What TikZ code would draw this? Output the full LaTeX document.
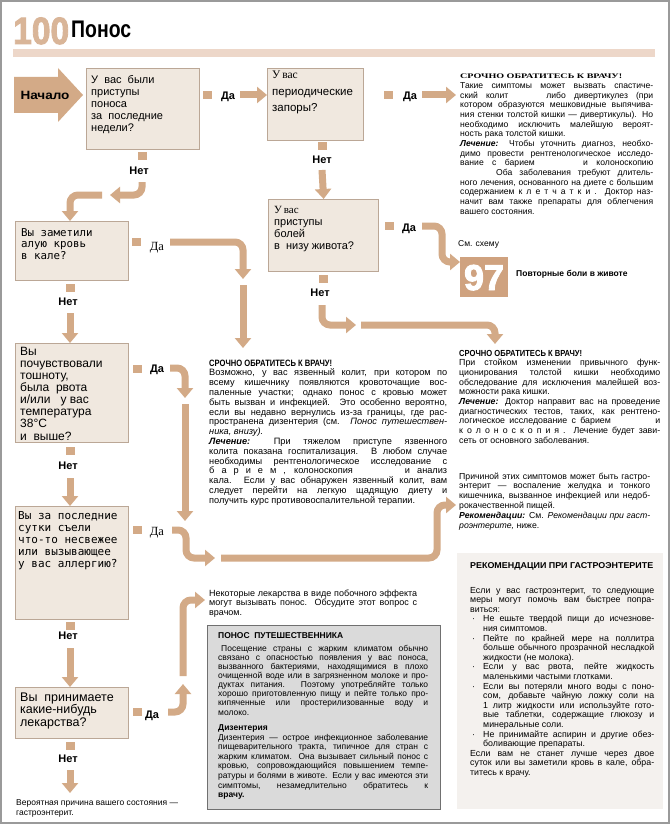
\documentclass[tikz,border=0pt]{standalone}
\usepackage{fontspec}
\setmainfont{Liberation Sans}
\newfontfamily\serf{Liberation Serif}
\newfontfamily\monof{DejaVu Sans Mono}
\newfontfamily\heavy{Liberation Sans}[BoldFeatures={FakeBold=2.5}]
\usepackage{graphicx}
\usetikzlibrary{arrows.meta}
\definecolor{tanA}{HTML}{D3AA87}
\definecolor{tan97}{HTML}{CFA27F}
\definecolor{titletan}{HTML}{D9B598}
\definecolor{band}{HTML}{EDD7C9}
\definecolor{boxfill}{HTML}{F0E8DF}
\definecolor{boxline}{HTML}{BBA796}
\definecolor{grayfill}{HTML}{DADADA}
\definecolor{grayline}{HTML}{707070}
\definecolor{recfill}{HTML}{F4F1EE}
\definecolor{framegray}{HTML}{9A9A9A}
\newsavebox\jlbox
\newlength\blw
\newcommand\jlw[2]{\sbox\jlbox{#2}\ifdim\wd\jlbox>#1\relax\resizebox{#1}{\ht\jlbox}{\usebox\jlbox}\else\makebox[#1][s]{#2}\fi}
\newcommand\jl[1]{\noindent\jlw{\linewidth}{#1}\par}
\newcommand\bj[2]{\noindent\makebox[13pt][l]{\hspace{2pt}#1}\jlw{\blw}{#2}\par}
\newcommand\bl[2]{\noindent\makebox[13pt][l]{\hspace{2pt}#1}#2\par}
\newcommand\fitw[2]{\resizebox{#1}{\height}{#2}}
\begin{document}
\begin{tikzpicture}[x=1pt,y=-1pt,
  tarr/.style={draw=tanA, line width=7pt, rounded corners=8pt, -{Triangle[width=16pt,length=10pt]}},
  stub/.style={fill=tanA, inner sep=0, minimum width=9pt, minimum height=8pt},
  qbox/.style={draw=boxline, fill=boxfill, line width=1.3pt, inner sep=0, anchor=north west},
  lab/.style={font=\bfseries\fontsize{11}{11}\selectfont, inner sep=0},
  slab/.style={font=\serf\fontsize{12.5}{12}\selectfont, inner sep=0},
  txt/.style={anchor=base west, inner sep=0},
]
\useasboundingbox (0,0) rectangle (670,824);
\fill[white] (0,0) rectangle (670,824);
\draw[draw=framegray, line width=2pt] (1,1) rectangle (669,823);

% title
\node[txt, text=titletan, font=\heavy\bfseries\fontsize{38}{38}\selectfont] (num) at (13,44) {\fitw{56pt}{100}};
\node[txt, font=\bfseries\fontsize{24}{24}\selectfont] (ttl) at (71,38) {\fitw{60pt}{Понос}};
\fill[band] (13,49) rectangle (655,57);

% start arrow
\fill[tanA] (14,77) -- (58,77) -- (58,68) -- (83,95) -- (58,122) -- (58,113) -- (14,113) -- cycle;
\node[font=\bfseries\fontsize{12}{12}\selectfont, inner sep=0] (start) at (45,95) {\fitw{49pt}{Начало}};

% question boxes
\node[qbox, minimum width=113pt, minimum height=81pt] (b1) at (86,68) {};
\node[qbox, minimum width=96pt, minimum height=72pt] (b2) at (267,68) {};
\node[qbox, minimum width=110pt, minimum height=72pt] (b3) at (268,199) {};
\node[qbox, minimum width=113pt, minimum height=59pt] (b4) at (15,221) {};
\node[qbox, minimum width=113pt, minimum height=99pt] (b5) at (15,343) {};
\node[qbox, minimum width=113pt, minimum height=113pt] (b6) at (15,506) {};
\node[qbox, minimum width=113pt, minimum height=51pt] (b7) at (15,687) {};

\node[txt] (b1t) at (91,84) {\parbox[t]{105pt}{\fontsize{11}{12}\selectfont
У\ \ вас\ \ были\\приступы\\поноса\\за\ \ последние\\недели?}};
\node[txt] (b2t) at (272,79) {\parbox[t]{90pt}{\fontsize{11.5}{16.5}\selectfont
{\serf У\,вас}\\периодические\\запоры?}};
\node[txt] (b3t) at (274,213) {\parbox[t]{104pt}{\fontsize{11}{12.3}\selectfont
{\serf У\,вас}\\приступы\\болей\\в\ \ низу живота?}};
\node[txt] (b4t) at (21,236) {\parbox[t]{105pt}{\monof\fontsize{10.8}{11.6}\selectfont
Вы заметили\\алую кровь\\в кале?}};
\node[txt] (b5t) at (20,355) {\parbox[t]{106pt}{\fontsize{12}{12.15}\selectfont
Вы\\почувствовали\\тошноту,\\была\ \ рвота\\и/или\ \ \ у вас\\температура\\38°C\\и\ \ выше?}};
\node[txt] (b6t) at (18,519) {\parbox[t]{108pt}{\monof\fontsize{11}{12}\selectfont
Вы за последние\\сутки съели\\что-то несвежее\\или вызывающее\\у вас аллергию?}};
\node[txt] (b7t) at (20,701) {\parbox[t]{106pt}{\fontsize{12.5}{12.5}\selectfont
Вы\ \ принимаете\\какие-нибудь\\лекарства?}};

% stubs
\node[stub] (s1) at (207,95) {};
\node[stub] (s2) at (388,95) {};
\node[stub] (s3) at (142,156) {};
\node[stub] (s4) at (322,146) {};
\node[stub] (s5) at (136,242) {};
\node[stub] (s6) at (389,226) {};
\node[stub] (s7) at (323,279) {};
\node[stub] (s8) at (70,288) {};
\node[stub] (s9) at (137,369) {};
\node[stub] (s10) at (70,451) {};
\node[stub] (s11) at (137,530) {};
\node[stub] (s12) at (70,626) {};
\node[stub] (s13) at (137,712) {};
\node[stub] (s14) at (70,746) {};

% labels
\node[lab] (d1) at (228,97) {Да};
\node[lab] (d2) at (410,97) {Да};
\node[lab] (n1) at (139,171) {Нет};
\node[lab] (n2) at (322,160) {Нет};
\node[slab] (d3) at (157,248) {Да};
\node[lab] (d4) at (409,229) {Да};
\node[lab] (n3) at (320,293) {Нет};
\node[lab] (n4) at (68,302) {Нет};
\node[lab] (d5) at (157,370) {Да};
\node[lab] (n5) at (68,466) {Нет};
\node[slab] (d6) at (157,533) {Да};
\node[lab] (n6) at (68,636) {Нет};
\node[lab] (d7) at (152,716) {Да};
\node[lab] (n7) at (68,759) {Нет};

% coordinates for arrow ends
\coordinate (e1) at (456,95);
\coordinate (e5) at (243,348);
\coordinate (e7) at (495,344);
\coordinate (e9) at (185,521);
\coordinate (e11) at (456,505);
\coordinate (e13) at (205,600);
\coordinate (e14) at (70,793);

% 97
\node[fill=tan97, minimum width=48pt, minimum height=40pt, anchor=north west, inner sep=0] (b97) at (460,257) {};
\node[anchor=base, text=white, font=\heavy\bfseries\fontsize{36}{36}\selectfont, inner sep=0] (n97) at (484,290) {97};
\node[txt, font=\fontsize{8.5}{9}\selectfont] (see) at (458,246) {См. схему};
\node[txt, font=\bfseries\fontsize{8.5}{9}\selectfont] (rep) at (516,276) {Повторные боли в животе};

% arrows
\draw[tarr] (240,95) -- (b2.west |- 0,95);
\draw[tarr] (422,95) -- (e1);
\draw[tarr] (322,170) -- (b3.north);
\draw[tarr] (142,182) -- (142,195) -- (110,195);
\draw[tarr] (102,195) -- (70,195) -- (b4.north -| 70,0);
\draw[tarr] (170,242) -- (243,242) -- (243,279);
\draw[tarr] (243,285) -- (e5);
\draw[tarr] (422,226) -- (442,226) -- (442,262) -- (b97.west |- 0,262);
\draw[tarr] (322,305) -- (322,325) -- (356,325);
\draw[tarr] (361,325) -- (495,325) -- (e7);
\draw[tarr] (70,313) -- (b5.north -| 70,0);
\draw[tarr] (170,368) -- (185,368) -- (185,398);
\draw[tarr] (185,404) -- (e9);
\draw[tarr] (70,478) -- (b6.north -| 70,0);
\draw[tarr] (172,530) -- (186,530) -- (186,558) -- (215,558);
\draw[tarr] (221,558) -- (437,558) -- (437,505) -- (e11);
\draw[tarr] (70,648) -- (b7.north -| 70,0);
\draw[tarr] (168,712) -- (183,712) -- (183,684);
\draw[tarr] (183,676) -- (183,600) -- (e13);
\draw[tarr] (70,770) -- (e14);

% text: top right
\node[txt] (t1) at (460,79) {\parbox[t]{193pt}{\fontsize{8.6}{9.65}\selectfont
\noindent\fitw{162pt}{\serf\bfseries\fontsize{7}{9}\selectfont СРОЧНО ОБРАТИТЕСЬ К ВРАЧУ!}\par
\jl{Такие симптомы может вызвать спастиче-}
\jl{ский колит\hspace{30pt} либо дивертикулез (при}
\jl{котором образуются мешковидные выпячива-}
\jl{ния стенки толстой кишки — дивертикулы). Но}
\jl{необходимо исключить малейшую вероят-}
ность рака толстой кишки.\par
\jl{\textbf{\textit{Лечение:}} Чтобы уточнить диагноз, необхо-}
\jl{димо провести рентгенологическое исследо-}
\jl{вание с барием\hspace{40pt} и колоноскопию}
\jl{\hspace{36pt}Оба заболевания требуют длитель-}
\jl{ного лечения, основанного на диете с большим}
\jl{содержанием к л е т ч а т к и . Доктор наз-}
\jl{начит вам также препараты для облегчения}
вашего состояния.\par}};

% text: middle left
\node[txt] (t2) at (209,366) {\parbox[t]{238pt}{\fontsize{9.2}{9.8}\selectfont
\noindent\fitw{123pt}{\bfseries СРОЧНО ОБРАТИТЕСЬ К ВРАЧУ!}\par
\jl{Возможно, у вас язвенный колит, при котором по}
\jl{всему кишечнику появляются кровоточащие вос-}
\jl{паленные участки; однако понос с кровью может}
\jl{быть вызван и инфекцией. Это особенно вероятно,}
\jl{если вы недавно вернулись из-за границы, где рас-}
\jl{пространена дизентерия (см. \textit{Понос путешествен-}}
\textit{ника, внизу).}\par
\jl{\textbf{\textit{Лечение:}} При тяжелом приступе язвенного}
\jl{колита показана госпитализация. В любом случае}
\jl{необходимы рентгенологическое исследование с}
\jl{б а р и е м , колоноскопия\hspace{45pt} и анализ}
\jl{кала. Если у вас обнаружен язвенный колит, вам}
\jl{следует перейти на легкую щадящую диету и}
получить курс противовоспалительной терапии.\par}};

% text: middle right
\node[txt] (t3) at (459,356) {\parbox[t]{201pt}{\fontsize{8.8}{9.7}\selectfont
\noindent\fitw{123pt}{\bfseries СРОЧНО ОБРАТИТЕСЬ К ВРАЧУ!}\par
\jl{При стойком изменении привычного функ-}
\jl{ционирования толстой кишки необходимо}
\jl{обследование для исключения малейшей воз-}
можности рака кишки.\par
\jl{\textbf{\textit{Лечение:}} Доктор направит вас на проведение}
\jl{диагностических тестов, таких, как рентгено-}
\jl{логическое исследование с барием\hspace{40pt} и}
\jl{к о л о н о с к о п и я . Лечение будет зави-}
сеть от основного заболевания.\par}};

% text: gastroenteritis
\node[txt] (t4) at (459,479) {\parbox[t]{191pt}{\fontsize{8.7}{9.8}\selectfont
\jl{Причиной этих симптомов может быть гастро-}
\jl{энтерит — воспаление желудка и тонкого}
\jl{кишечника, вызванное инфекцией или недоб-}
рокачественной пищей.\par
\jl{\textbf{\textit{Рекомендации:}} См. \textit{Рекомендации при гаст-}}
\textit{роэнтерите,} ниже.\par}};

% text: medicines
\node[txt] (t5) at (209,596) {\parbox[t]{208pt}{\fontsize{9}{9.6}\selectfont
\jl{Некоторые лекарства в виде побочного эффекта}
\jl{могут вызывать понос. Обсудите этот вопрос с}
врачом.\par}};

% traveller box
\node[draw=grayline, fill=grayfill, line width=1pt, anchor=north west, minimum width=233pt, minimum height=184pt, inner sep=0] (trav) at (207,625) {};
\node[txt] (t6h) at (218,638) {\fitw{125pt}{\bfseries\fontsize{8.5}{9}\selectfont ПОНОС\ \ ПУТЕШЕСТВЕННИКА}};
\node[txt] (t6) at (218,651) {\parbox[t]{210pt}{\fontsize{8.5}{9.15}\selectfont
\jl{\hspace{3pt}Посещение страны с жарким климатом обычно}
\jl{связано с опасностью появления у вас поноса,}
\jl{вызванного бактериями, находящимися в плохо}
\jl{очищенной воде или в загрязненном молоке и про-}
\jl{дуктах питания. Поэтому употребляйте только}
\jl{хорошо приготовленную пищу и пейте только про-}
\jl{кипяченные или простерилизованные воду и}
молоко.\par}};
\node[txt, font=\bfseries\fontsize{8.5}{9}\selectfont] (t7h) at (218,730) {Дизентерия};
\node[txt] (t7) at (218,740) {\parbox[t]{210pt}{\fontsize{8.5}{9.65}\selectfont
\jl{Дизентерия — острое инфекционное заболевание}
\jl{пищеварительного тракта, типичное для стран с}
\jl{жарким климатом. Она вызывает сильный понос с}
\jl{кровью, сопровождающийся повышением темпе-}
\jl{ратуры и болями в животе. Если у вас имеются эти}
\jl{симптомы,\ \ \ незамедлительно\ \ \ обратитесь\ \ \ к}
\textbf{врачу.}\par}};

% recommendations box
\node[fill=recfill, anchor=north west, minimum width=206pt, minimum height=256pt, inner sep=0] (rec) at (457,553) {};
\node[txt] (t8h) at (470,568) {\fitw{183pt}{\bfseries\fontsize{8.5}{9}\selectfont РЕКОМЕНДАЦИИ ПРИ ГАСТРОЭНТЕРИТЕ}};
\node[txt] (t8) at (470,593) {\parbox[t]{184pt}{\fontsize{8.8}{9.6}\selectfont
\setlength\blw{\linewidth}\addtolength\blw{-13pt}
\jl{Если у вас гастроэнтерит, то следующие}
\jl{меры могут помочь вам быстрее попра-}
виться:\par
\bj{·}{Не ешьте твердой пищи до исчезнове-}
\bl{}{ния симптомов.}
\bj{·}{Пейте по крайней мере на поллитра}
\bj{}{больше обычного прозрачной несладкой}
\bl{}{жидкости (не молока).}
\bj{·}{Если у вас рвота, пейте жидкость}
\bl{}{маленькими частыми глотками.}
\bj{·}{Если вы потеряли много воды с поно-}
\bj{}{сом, добавьте чайную ложку соли на}
\bj{}{1 литр жидкости или используйте гото-}
\bj{}{вые таблетки, содержащие глюкозу и}
\bl{}{минеральные соли.}
\bj{·}{Не принимайте аспирин и другие обез-}
\bl{}{боливающие препараты.}
\jl{Если вам не станет лучше через двое}
\jl{суток или вы заметили кровь в кале, обра-}
титесь к врачу.\par}};

% bottom text
\node[txt] (t9) at (16,805) {\parbox[t]{190pt}{\fontsize{8.5}{10}\selectfont
Вероятная причина вашего состояния —\\гастроэнтерит.}};
\end{tikzpicture}
\end{document}
